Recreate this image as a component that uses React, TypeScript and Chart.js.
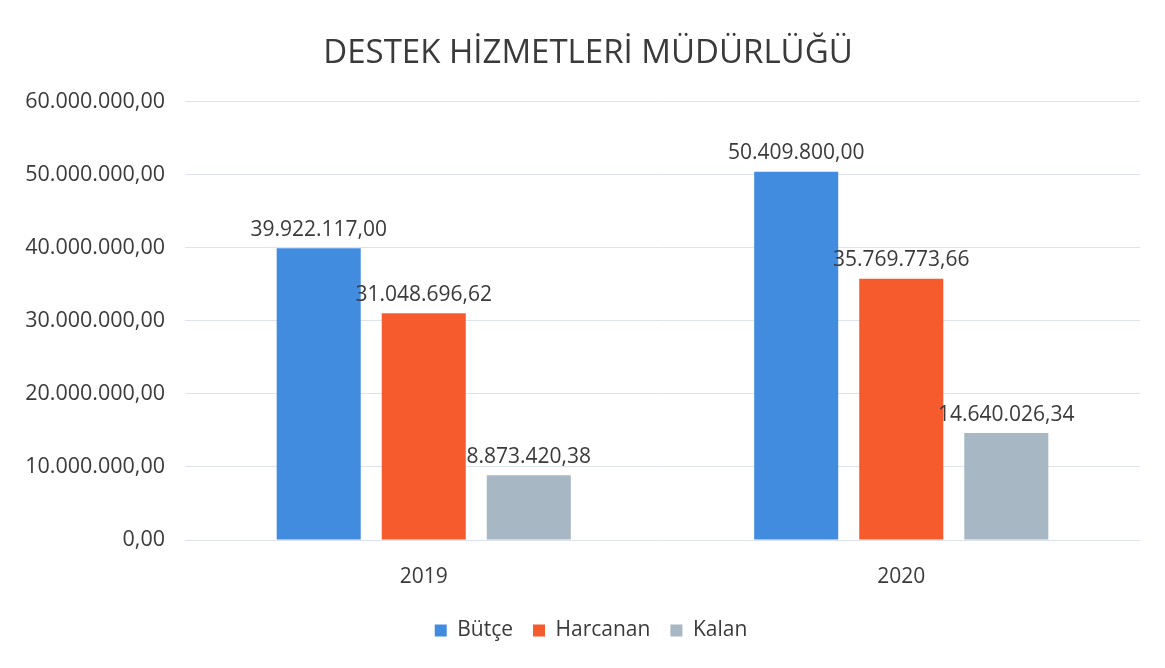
import React, { useEffect, useRef } from "react";
import { Chart, registerables } from "chart.js";

Chart.register(...registerables);

const categories = ["2019", "2020"];
const butce = [39922117.0, 50409800.0];
const harcanan = [31048696.62, 35769773.66];
const kalan = [8873420.38, 14640026.34];
const seriesNames = ["Bütçe", "Harcanan", "Kalan"];
const titleText = "DESTEK HİZMETLERİ MÜDÜRLÜĞÜ";

const fmt = (v: number) =>
  v.toLocaleString("tr-TR", { minimumFractionDigits: 2, maximumFractionDigits: 2 });

const FONT = "'Open Sans', 'Noto Sans', sans-serif";
const TEXT = "#3a3a3a";

const valueLabels = {
  id: "valueLabels",
  afterDatasetsDraw(chart: any) {
    const ctx = chart.ctx;
    ctx.save();
    ctx.font = `21px ${FONT}`;
    ctx.fillStyle = TEXT;
    ctx.textAlign = "center";
    ctx.textBaseline = "bottom";
    chart.data.datasets.forEach((ds: any, i: number) => {
      const meta = chart.getDatasetMeta(i);
      meta.data.forEach((bar: any, j: number) => {
        ctx.fillText(fmt(ds.data[j]), bar.x, bar.y - 8);
      });
    });
    ctx.restore();
  },
};

// shift title and legend to be centred like the original
const shiftBlocks = {
  id: "shiftBlocks",
  afterLayout(chart: any) {
    const t = chart.titleBlock;
    if (t) {
      t.left += 18;
      t.right += 18;
    }
    const l = chart.legend;
    if (l) {
      l.left += 21;
      l.right += 21;
    }
  },
};

export default function App() {
  const ref = useRef<HTMLCanvasElement | null>(null);
  useEffect(() => {
    if (!ref.current) return;
    const chart = new Chart(ref.current, {
      type: "bar",
      data: {
        labels: categories,
        datasets: [
          { label: seriesNames[0], data: butce, backgroundColor: "#428ce0" },
          { label: seriesNames[1], data: harcanan, backgroundColor: "#f65b2e" },
          { label: seriesNames[2], data: kalan, backgroundColor: "#a7b7c3" },
        ],
      },
      options: {
        responsive: true,
        maintainAspectRatio: false,
        animation: false,
        layout: { padding: { left: 0, right: 25, top: 0, bottom: 17 } },
        datasets: { bar: { categoryPercentage: 0.66, barPercentage: 0.8 } } as any,
        plugins: {
          title: {
            display: true,
            text: titleText,
            color: TEXT,
            font: { family: FONT, size: 33, weight: "normal" },
            padding: { top: 34, bottom: 28 },
          },
          legend: {
            position: "bottom",
            labels: {
              color: TEXT,
              font: { family: FONT, size: 21 },
              boxWidth: 12,
              boxHeight: 12,
              padding: 20,
            },
          },
          tooltip: { enabled: false },
        },
        scales: {
          x: {
            grid: { display: false },
            border: { display: false },
            ticks: { color: TEXT, font: { family: FONT, size: 21 }, padding: 16 },
            afterFit: (s: any) => {
              s.height = 60;
            },
          },
          y: {
            min: 0,
            max: 60000000,
            ticks: {
              stepSize: 10000000,
              color: TEXT,
              font: { family: FONT, size: 21.5 },
              padding: 20,
              callback: (v: any) => fmt(Number(v)),
            },
            grid: { color: "#dde2ec", drawTicks: false, tickLength: 0 },
            border: { display: false },
            afterFit: (s: any) => {
              s.width = 185;
            },
          },
        },
      },
      plugins: [valueLabels, shiftBlocks],
    });
    return () => chart.destroy();
  }, []);
  return (
    <div style={{ position: "fixed", left: 0, top: 0, width: 1165, height: 668, background: "#fff" }}>
      <canvas ref={ref} />
    </div>
  );
}
